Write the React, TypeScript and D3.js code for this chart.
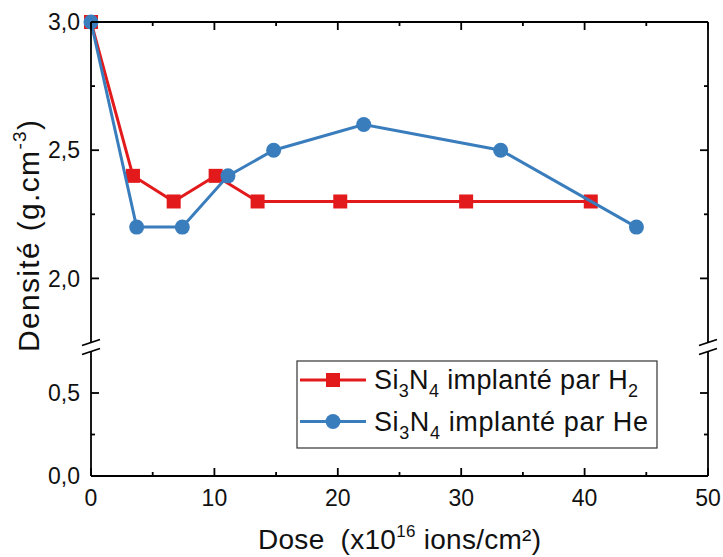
import React from "react";
import * as d3 from "d3";

const doseH2 = [0, 3.4, 6.7, 10.1, 13.5, 20.2, 30.4, 40.5];
const densH2 = [3.0, 2.4, 2.3, 2.4, 2.3, 2.3, 2.3, 2.3];
const doseHe = [0, 3.7, 7.4, 11.1, 14.8, 22.1, 33.2, 44.2];
const densHe = [3.0, 2.2, 2.2, 2.4, 2.5, 2.6, 2.5, 2.2];
const xTicks = [0, 10, 20, 30, 40, 50];
const xMinor = [5, 15, 25, 35, 45];
const yUpperTicks = [2.0, 2.5, 3.0];
const yUpperMinor = [2.25, 2.75];
const yLowerTicks = [0.0, 0.5];
const yLowerMinor = [0.25];
const legendLabels = ["H", "He"];

const RED = "#e31a1c";
const BLUE = "#3a7dbd";
const FONT = "'Liberation Sans', Arial, sans-serif";

export default function App() {
  const left = 91, right = 708, top = 22, bottom = 476;
  const x = d3.scaleLinear().domain([0, 50]).range([left, right]);
  const yU = d3.scaleLinear().domain([1.75, 3.0]).range([342.5, top]);
  const yL = d3.scaleLinear().domain([0, 0.75]).range([bottom, 351.5]);
  const breakTop = yU(1.75);
  const breakBot = yL(0.75);

  const line = d3
    .line<[number, number]>()
    .x((d) => x(d[0]))
    .y((d) => yU(d[1]));
  const ptsH2: [number, number][] = doseH2.map((d, i) => [d, densH2[i]]);
  const ptsHe: [number, number][] = doseHe.map((d, i) => [d, densHe[i]]);

  const fmt = (v: number) => v.toFixed(1).replace(".", ",");
  const axisW = 1.8;

  const breakMark = (cx: number, cy: number, key: string) => (
    <line key={key} x1={cx - 9} y1={cy + 3} x2={cx + 9} y2={cy - 3} stroke="black" strokeWidth={1.8} />
  );

  const legendText = (label: string, base: number, sub: boolean, len: number) => (
    <text x={374} y={base} textLength={len} lengthAdjust="spacing">
      Si
      <tspan dy={8} fontSize={18}>3</tspan>
      <tspan dy={-8}>N</tspan>
      <tspan dy={8} fontSize={18}>4</tspan>
      <tspan dy={-8}>{" implanté par " + label}</tspan>
      {sub ? <tspan dy={8} fontSize={18}>2</tspan> : null}
    </text>
  );

  return (
    <svg width={723} height={557} style={{ position: "absolute", left: 0, top: 0 }}>
      <rect width={723} height={557} fill="white" />
      <path d={line(ptsH2) || ""} fill="none" stroke={RED} strokeWidth={3} />
      {ptsH2.map((p, i) => (
        <rect key={"h" + i} x={x(p[0]) - 7} y={yU(p[1]) - 7} width={14} height={14} fill={RED} />
      ))}
      <path d={line(ptsHe) || ""} fill="none" stroke={BLUE} strokeWidth={3} />
      {ptsHe.map((p, i) => (
        <circle key={"c" + i} cx={x(p[0])} cy={yU(p[1])} r={7.5} fill={BLUE} />
      ))}

      <g stroke="black" strokeWidth={axisW} fill="none">
        <line x1={left} y1={top} x2={right} y2={top} />
        <line x1={left} y1={bottom} x2={right} y2={bottom} />
        <line x1={left} y1={top} x2={left} y2={breakTop} />
        <line x1={left} y1={breakBot} x2={left} y2={bottom} />
        <line x1={right} y1={top} x2={right} y2={breakTop} />
        <line x1={right} y1={breakBot} x2={right} y2={bottom} />
        {xTicks.map((t) => (
          <g key={"xt" + t}>
            <line x1={x(t)} y1={bottom} x2={x(t)} y2={bottom - 8} />
            <line x1={x(t)} y1={top} x2={x(t)} y2={top + 8} />
          </g>
        ))}
        {xMinor.map((t) => (
          <g key={"xm" + t}>
            <line x1={x(t)} y1={bottom} x2={x(t)} y2={bottom - 4} />
            <line x1={x(t)} y1={top} x2={x(t)} y2={top + 4} />
          </g>
        ))}
        {yUpperTicks.map((t) => (
          <g key={"yu" + t}>
            <line x1={left} y1={yU(t)} x2={left + 8} y2={yU(t)} />
            <line x1={right} y1={yU(t)} x2={right - 8} y2={yU(t)} />
          </g>
        ))}
        {yUpperMinor.map((t) => (
          <g key={"yum" + t}>
            <line x1={left} y1={yU(t)} x2={left + 4} y2={yU(t)} />
            <line x1={right} y1={yU(t)} x2={right - 4} y2={yU(t)} />
          </g>
        ))}
        {yLowerTicks.map((t) => (
          <g key={"yl" + t}>
            <line x1={left} y1={yL(t)} x2={left + 8} y2={yL(t)} />
            <line x1={right} y1={yL(t)} x2={right - 8} y2={yL(t)} />
          </g>
        ))}
        {yLowerMinor.map((t) => (
          <g key={"ylm" + t}>
            <line x1={left} y1={yL(t)} x2={left + 4} y2={yL(t)} />
            <line x1={right} y1={yL(t)} x2={right - 4} y2={yL(t)} />
          </g>
        ))}
      </g>
      {breakMark(left, breakTop, "b1")}
      {breakMark(left, breakBot, "b2")}
      {breakMark(right, breakTop, "b3")}
      {breakMark(right, breakBot, "b4")}

      <g fontFamily={FONT} fontSize={23} fill="#111">
        {xTicks.map((t) => (
          <text key={"xl" + t} x={x(t)} y={bottom + 30} textAnchor="middle">
            {t}
          </text>
        ))}
        {yUpperTicks.map((t) => (
          <text key={"yul" + t} x={left - 11} y={yU(t)} dy="0.36em" textAnchor="end">
            {fmt(t)}
          </text>
        ))}
        {yLowerTicks.map((t) => (
          <text key={"yll" + t} x={left - 11} y={yL(t)} dy="0.36em" textAnchor="end">
            {fmt(t)}
          </text>
        ))}
      </g>

      <text
        x={258}
        y={549}
        fontFamily={FONT}
        fontSize={28}
        fill="#111"
        textLength={283}
        lengthAdjust="spacing"
        style={{ whiteSpace: "pre" }}
      >
        {"Dose  (x10"}
        <tspan dy={-12} fontSize={17}>16</tspan>
        <tspan dy={12}>{" ions/cm²)"}</tspan>
      </text>
      <text
        transform={`translate(39, 352) rotate(-90)`}
        fontFamily={FONT}
        fontSize={30}
        fill="#111"
        textLength={232}
        lengthAdjust="spacing"
      >
        Densité (g.cm
        <tspan dy={-13} fontSize={19}>-3</tspan>
        <tspan dy={13}>)</tspan>
      </text>

      <g>
        <rect x={297} y={361} width={360} height={87} fill="white" stroke="#333" strokeWidth={1.2} />
        <line x1={300} y1={380} x2={366} y2={380} stroke={RED} strokeWidth={3} />
        <rect x={326} y={373} width={14} height={14} fill={RED} />
        <line x1={300} y1={421.5} x2={366} y2={421.5} stroke={BLUE} strokeWidth={3} />
        <circle cx={333} cy={421.5} r={7.5} fill={BLUE} />
        <g fontFamily={FONT} fontSize={27} fill="#111">
          {legendText(legendLabels[0], 389, true, 264)}
          {legendText(legendLabels[1], 431, false, 274)}
        </g>
      </g>
    </svg>
  );
}
